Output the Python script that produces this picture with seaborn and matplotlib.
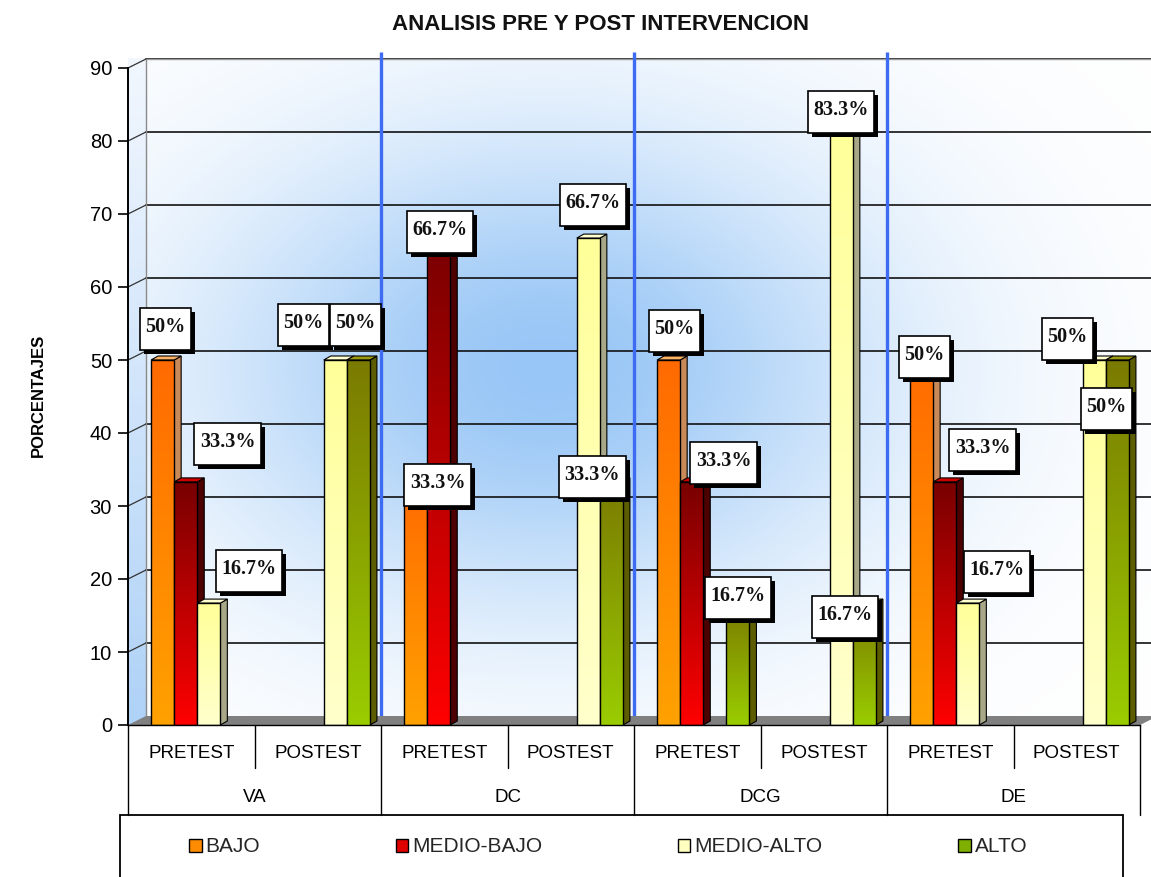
import numpy as np
import pandas as pd
import matplotlib
matplotlib.use("Agg")
import matplotlib.pyplot as plt
import seaborn as sns
from matplotlib.colors import LinearSegmentedColormap, to_rgb
from matplotlib.patches import Polygon, Rectangle, Patch
from matplotlib.transforms import IdentityTransform

# ---------------------------------------------------------------- data
GROUPS = ["VA", "DC", "DCG", "DE"]
SESSIONS = ["PRETEST", "POSTEST"]
LEVELS = ["BAJO", "MEDIO-BAJO", "MEDIO-ALTO", "ALTO"]

bajo = [50, 0, 33.3, 0, 50, 0, 50, 0]
medio_bajo = [33.3, 0, 66.7, 0, 33.3, 0, 33.3, 0]
medio_alto = [16.7, 50, 0, 66.7, 0, 83.3, 16.7, 50]
alto = [0, 50, 0, 33.3, 16.7, 16.7, 0, 50]

TITLE = "ANALISIS PRE Y POST INTERVENCION"
Y_LABEL = "PORCENTAJES"
Y_TICKS = list(range(0, 91, 10))

# ---------------------------------------------------------------- styling
W, H = 1151, 877
BAR_STYLE = {
    "BAJO":       dict(top="#FF6A00", bottom="#FFA200", side="#C98A5A", cap="#FFB366", key="#FF8C00"),
    "MEDIO-BAJO": dict(top="#780000", bottom="#FF0000", side="#4D0000", cap="#D00000", key="#E00000"),
    "MEDIO-ALTO": dict(top="#FFFF99", bottom="#FFFFCC", side="#A8A888", cap="#FFFFD0", key="#FFFFC0"),
    "ALTO":       dict(top="#7A7A00", bottom="#9ACD00", side="#5C5C00", cap="#9A9A10", key="#7FAF00"),
}
# label placement (pixels right, pixels up) relative to the top of each bar
LABEL_OFFSETS = {
    (0, 0): (3, 33), (0, 1): (42, 40), (0, 2): (40, 34), (1, 2): (-32, 37), (1, 3): (-3, 37),
    (2, 0): (22, -1), (2, 1): (1, 8), (3, 2): (5, 35), (3, 3): (-19, 7),
    (4, 0): (6, 31), (4, 1): (32, 21), (4, 3): (0, 7), (5, 2): (0, 7), (5, 3): (-19, -12),
    (6, 0): (3, 5), (6, 1): (38, 34), (6, 2): (29, 33), (7, 2): (-27, 23), (7, 3): (-11, -47),
}

# ---------------------------------------------------------------- frame
categories = [f"{g}|{s}" for g in GROUPS for s in SESSIONS]
series = [bajo, medio_bajo, medio_alto, alto]
df = pd.DataFrame(
    [(cat, lvl, v) for lvl, vals in zip(LEVELS, series) for cat, v in zip(categories, vals)],
    columns=["prueba", "nivel", "porcentaje"],
)

sns.set_theme(style="white")
plt.rcParams["font.family"] = ["Liberation Sans", "DejaVu Sans"]

fig = plt.figure(figsize=(W / 100, H / 100), dpi=100)
fig.patch.set_facecolor("white")
ax_left, ax_right, ax_top, ax_bottom = 128, 1140, 68, 725
ax = fig.add_axes([ax_left / W, (H - ax_bottom) / H, (ax_right - ax_left) / W, (ax_bottom - ax_top) / H])
ax.patch.set_visible(False)

sns.barplot(
    data=df, x="prueba", y="porcentaje", hue="nivel",
    order=categories, hue_order=LEVELS,
    palette={k: v["bottom"] for k, v in BAR_STYLE.items()},
    width=0.73, saturation=1, edgecolor="black", linewidth=1,
    errorbar=None, legend=False, ax=ax,
)

XMIN, XMAX, YMAX = -0.5, 7.5, 90
px_x = (ax_right - ax_left) / (XMAX - XMIN)      # pixels per category
px_y = (ax_bottom - ax_top) / YMAX               # pixels per percent
DX, DY = 18 / px_x, 9 / px_y                     # wall depth
BDX, BDY = 7 / px_x, 4 / px_y                    # bar depth
BAR_SHIFT = 6 / px_x

# ---------------------------------------------------------------- walls
wall_blue = np.array(to_rgb("#98C6F6"))
white = np.ones(3)
ny, nx = 240, 480
gx = np.linspace(146, 1158, nx)
gy = np.linspace(716, 59, ny)
X, Y = np.meshgrid(gx, gy)
r2 = ((X - 545) / 470) ** 2 + ((Y - 370) / 330) ** 2
s = np.exp(-1.9 * r2)
bg = white[None, None, :] * (1 - s[..., None]) + wall_blue[None, None, :] * s[..., None]
ax.imshow(bg, extent=[XMIN + DX, XMAX + DX, DY, YMAX + DY], origin="lower",
          aspect="auto", zorder=0, clip_on=False, interpolation="bilinear")

# left side wall
side_wall = Polygon([(XMIN, 0), (XMIN + DX, DY), (XMIN + DX, YMAX + DY), (XMIN, YMAX)],
                    closed=True, facecolor="none", edgecolor="none", zorder=0.1, clip_on=False)
ax.add_patch(side_wall)
sw = np.linspace(0, 1, 200)[:, None]
sw_img = (1 - sw[..., None]) * np.array(to_rgb("#AFD2F7")) + sw[..., None] * np.array(to_rgb("#F2F7FE"))
sw_img = np.repeat(sw_img, 4, axis=1)
im = ax.imshow(sw_img, extent=[XMIN, XMIN + DX, 0, YMAX + DY], origin="lower",
               aspect="auto", zorder=0.1, clip_on=False)
im.set_clip_path(side_wall)

# gridlines on the back wall, with connectors to the value axis
for v in Y_TICKS[1:]:
    ax.plot([XMIN, XMIN + DX], [v, v + DY], color="#333333", lw=0.9, zorder=0.5, clip_on=False)
    ax.plot([XMIN + DX, XMAX + 0.5], [v + DY, v + DY], color="#111111", lw=1.2, zorder=0.5, clip_on=False)
ax.plot([XMIN + DX, XMAX + 0.5], [YMAX + DY] * 2, color="#9A9A9A", lw=1.0, zorder=0.5, clip_on=False)
ax.plot([XMIN + DX, XMIN + DX], [DY, YMAX + DY], color="#8A8A8A", lw=1.0, zorder=0.5, clip_on=False)

# group separators
for xb in [1.5, 3.5, 5.5]:
    ax.plot([xb, xb], [DY, YMAX + 2.2], color="#3D6CF2", lw=2.4, zorder=0.8,
            clip_on=False, solid_capstyle="butt")

# floor
ax.add_patch(Polygon([(XMIN, 0), (XMAX, 0), (XMAX + DX, DY), (XMIN + DX, DY)], closed=True,
                     facecolor="#808080", edgecolor="none", zorder=1, clip_on=False))

# ---------------------------------------------------------------- 3D bars
grad = np.linspace(0, 1, 256).reshape(-1, 1)
label_texts = []
for j, (lvl, cont) in enumerate(zip(LEVELS, ax.containers)):
    st = BAR_STYLE[lvl]
    cmap = LinearSegmentedColormap.from_list(lvl, [st["bottom"], st["top"]])
    base = 2 + j
    for i, bar in enumerate(cont):
        h = bar.get_height()
        if h <= 0:
            bar.set_visible(False)
            continue
        bar.set_x(bar.get_x() + BAR_SHIFT)
        x0, w = bar.get_x(), bar.get_width()
        x1 = x0 + w
        ax.add_patch(Polygon([(x1, 0), (x1 + BDX, BDY), (x1 + BDX, h + BDY), (x1, h)], closed=True,
                             facecolor=st["side"], edgecolor="black", lw=0.8, zorder=base))
        ax.add_patch(Polygon([(x0, h), (x0 + BDX, h + BDY), (x1 + BDX, h + BDY), (x1, h)], closed=True,
                             facecolor=st["cap"], edgecolor="black", lw=0.8, zorder=base))
        gi = ax.imshow(grad, extent=[x0, x1, 0, h], origin="lower", cmap=cmap,
                       aspect="auto", zorder=base + 0.3, interpolation="bilinear")
        gi.set_clip_path(bar)
        bar.set_facecolor("none")
        bar.set_zorder(base + 0.5)

        dx, dy = LABEL_OFFSETS[(i, j)]
        t = ax.annotate(f"{series[j][i]:g}%", xy=(x0 + w / 2, h), xytext=(dx * 0.72, dy * 0.72),
                        textcoords="offset points", ha="center", va="center",
                        fontsize=14.5, fontweight="bold", family=["Liberation Serif", "DejaVu Serif"],
                        color="#111111", zorder=12, annotation_clip=False)
        label_texts.append(t)

ax.set_xlim(XMIN, XMAX)
ax.set_ylim(0, YMAX)

# ---------------------------------------------------------------- axes
for side in ["top", "right"]:
    ax.spines[side].set_visible(False)
ax.spines["left"].set_color("black")
ax.spines["left"].set_linewidth(1.4)
ax.spines["bottom"].set_color("black")
ax.spines["bottom"].set_linewidth(1.0)
ax.spines["left"].set_zorder(5)
ax.spines["bottom"].set_zorder(5)
ax.set_yticks(Y_TICKS)
ax.set_yticklabels([str(v) for v in Y_TICKS])
ax.tick_params(axis="y", direction="out", length=7.2, width=1.2, pad=4.3,
               labelsize=14.5, colors="black", left=True)
ax.set_xticks([])
ax.set_xlabel("")
ax.set_ylabel(Y_LABEL, fontsize=12, fontweight="bold", color="black")
ax.yaxis.label.set_va("center")
ax.yaxis.set_label_coords((38 - ax_left) / (ax_right - ax_left), (ax_bottom - 395) / (ax_bottom - ax_top))

# category table under the floor
xt = ax.get_xaxis_transform()
frac = lambda py: (ax_bottom - py) / (ax_bottom - ax_top)
for xb in [-0.5, 1.5, 3.5, 5.5, 7.5]:
    ax.plot([xb, xb], [0, frac(815)], color="black", lw=1.0, transform=xt, clip_on=False)
for xb in [0.5, 2.5, 4.5, 6.5]:
    ax.plot([xb, xb], [0, frac(768)], color="black", lw=1.0, transform=xt, clip_on=False)
for i, cat in enumerate(categories):
    ax.text(i, frac(754), cat.split("|")[1], transform=xt, ha="center", va="center",
            fontsize=13.5, color="black")
for g, name in enumerate(GROUPS):
    ax.text(2 * g + 0.5, frac(797), name, transform=xt, ha="center", va="center",
            fontsize=13.5, color="black")

# title
fig.text(601 / W, 1 - 24 / H, TITLE, ha="center", va="center", fontsize=16,
         fontweight="bold", color="#111111")

# legend
handles = [Patch(facecolor=BAR_STYLE[l]["key"], edgecolor="black", linewidth=1.0) for l in LEVELS]
ax.legend(handles, LEVELS, loc="center left", bbox_to_anchor=(189 / W, 1 - 847 / H),
          bbox_transform=fig.transFigure, ncol=4, frameon=False, fontsize=15,
          handlelength=0.6, handleheight=0.6, handletextpad=0.2, columnspacing=6.5,
          borderpad=0, borderaxespad=0)
fig.add_artist(Rectangle((120 / W, -0.02), (1123 - 120) / W, (H - 815) / H + 0.02,
                         transform=fig.transFigure, facecolor="none", edgecolor="black", lw=1.3))

# ---------------------------------------------------------------- label boxes
fig.canvas.draw()
renderer = fig.canvas.get_renderer()
for t in label_texts:
    bb = t.get_window_extent(renderer)
    cx, cy = (bb.x0 + bb.x1) / 2, (bb.y0 + bb.y1) / 2 - 2
    bw, bh = bb.width + 11, 42
    for (ox, oy, fc, ec, z) in [(4, -4, "black", "none", 10), (0, 0, "white", "black", 11)]:
        rect = Rectangle((cx - bw / 2 + ox, cy - bh / 2 + oy), bw, bh, transform=IdentityTransform(),
                         facecolor=fc, edgecolor=ec, lw=1.2, zorder=z)
        ax.add_artist(rect)
        rect.set_clip_on(False)

fig.savefig("out.png", dpi=100, facecolor="white")
